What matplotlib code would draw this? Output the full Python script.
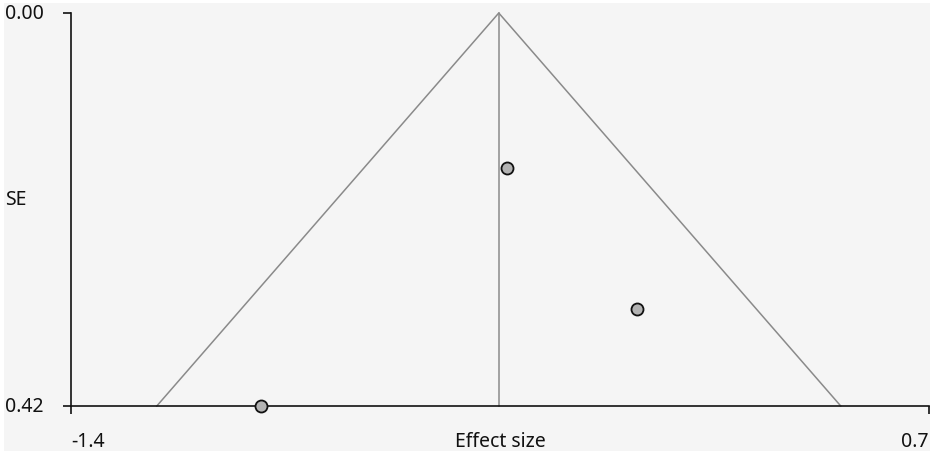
import matplotlib
matplotlib.use("Agg")
import matplotlib.pyplot as plt
from matplotlib import transforms
from matplotlib.patches import Rectangle

# Data
effect_sizes = [-0.333, -0.015, -0.935]
std_errors = [0.166, 0.316, 0.42]
pooled_effect = -0.353
funnel_half_width_at_max = 0.837
se_max = 0.42
x_limits = [-1.4, 0.7]
y_ticks = [0.0, 0.42]
y_tick_labels = ["0.00", "0.42"]
x_tick_labels = ["-1.4", "0.7"]

plt.rcParams['font.family'] = ['Noto Sans', 'DejaVu Sans']

W, H = 935, 456
FS = 14
fig = plt.figure(figsize=(W / 100, H / 100), dpi=100, facecolor='white')
fig.patches.append(Rectangle((4 / W, 4 / H), 926 / W, 448 / H, transform=fig.transFigure,
                             facecolor='#f5f5f5', edgecolor='none', zorder=-10))

ax = fig.add_axes([71 / W, 1 - 407 / H, (929 - 71) / W, (407 - 14) / H])
ax.set_facecolor('none')
ax.set_xlim(*x_limits)
ax.set_ylim(se_max, 0)

line_col = '#8a8a8a'
ax.plot([pooled_effect - funnel_half_width_at_max, pooled_effect, pooled_effect + funnel_half_width_at_max],
        [se_max, 0, se_max], color=line_col, lw=1.1, zorder=2, clip_on=False)
ax.plot([pooled_effect, pooled_effect], [0, se_max], color=line_col, lw=1.1, zorder=2, clip_on=False)

ax.scatter(effect_sizes, std_errors, s=75, facecolor='#b3b3b3', edgecolor='#111111',
           linewidths=1.3, zorder=5, clip_on=False)

for s in ['top', 'right']:
    ax.spines[s].set_visible(False)
for s in ['left', 'bottom']:
    ax.spines[s].set_color('#111111')
    ax.spines[s].set_linewidth(1.2)

ax.set_yticks(y_ticks)
ax.set_yticklabels([])
ax.tick_params(axis='y', length=6, width=1.2, color='#111111', direction='out')

ax.set_xticks(x_limits)
ax.set_xticklabels([])
ax.tick_params(axis='x', length=6, width=1.2, color='#111111', direction='out')

trans_y = transforms.blended_transform_factory(fig.transFigure, ax.transData)
for v, t in zip(y_ticks, y_tick_labels):
    fig.text(5 / W, v, t, transform=trans_y, ha='left', va='center', fontsize=FS, color='#111111')

trans_x = transforms.blended_transform_factory(ax.transData, fig.transFigure)
label_y = 1 - 442 / H
ax.text(x_limits[0], label_y, x_tick_labels[0], transform=trans_x, ha='left', va='center',
        fontsize=FS, color='#111111')
ax.text(x_limits[1], label_y, x_tick_labels[1], transform=trans_x, ha='right', va='center',
        fontsize=FS, color='#111111')

fig.text(5 / W, 1 - 200 / H, "SE", ha='left', va='center', fontsize=FS, color='#111111')
fig.text(0.5 * (71 + 929) / W, label_y, "Effect size", ha='center', va='center',
         fontsize=FS, color='#111111')

fig.savefig('out.png', dpi=100, facecolor='white')
